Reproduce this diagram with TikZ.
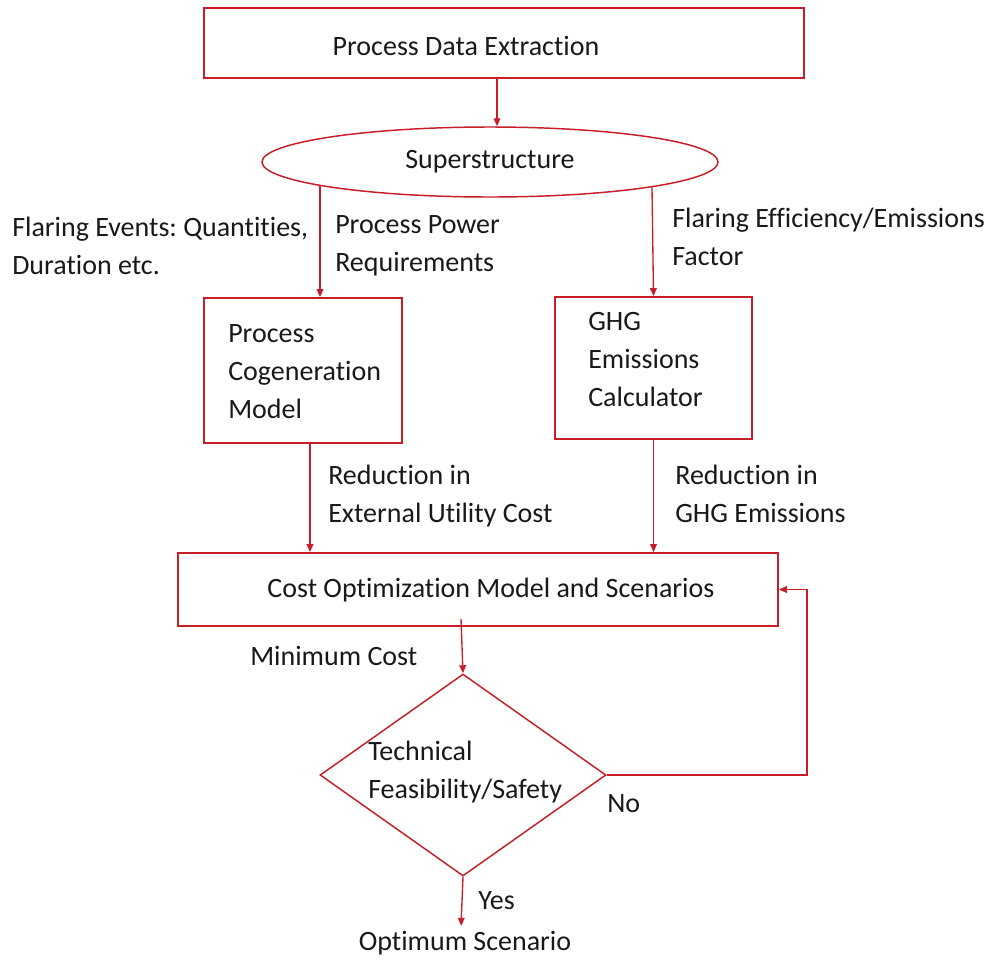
\documentclass[tikz,border=0pt]{standalone}
\usepackage{fontspec}
\setmainfont{Carlito}[Ligatures={NoCommon}]
\frenchspacing
\usetikzlibrary{arrows.meta,shapes.geometric,fit,calc}
\definecolor{lred}{RGB}{200,30,40}
\tikzset{
  box/.style={draw=lred, line width=1.3pt, inner sep=0pt},
  arr/.style={draw=lred, line width=1pt, -{Triangle[length=6pt,width=5pt]}},
  txt/.style={inner sep=0pt, font=\fontsize{21}{28.5}\selectfont\frenchspacing, text=black!90},
  lab/.style={txt, align=left, anchor=west},
}
\begin{document}
\begin{tikzpicture}[x=0.75pt, y=-0.75pt]
\path[use as bounding box, fill=white] (0,0) rectangle (992,961);
% boxes
\node[box, fit={(204,8) (804,78)}] (pde) {};
\node[txt] (pdet) at (466,46) {Process Data Extraction};
\node[ellipse, draw=lred, line width=1.1pt, minimum width=342pt, minimum height=52.5pt, inner sep=0pt] (sup) at (490,162) {};
\node[txt] (supt) at (490,162) {Superstructure};
\node[box, fit={(204,298) (402,443)}] (cog) {};
\node[lab] (cogt) at (228,372) {Process\\Cogeneration\\Model};
\node[box, fit={(555,297) (752,439)}] (ghg) {};
\node[lab] (ghgt) at (588,360) {GHG\\Emissions\\Calculator};
\node[box, fit={(178,553) (778,626)}] (cost) {};
\node[txt] (costt) at (491,590) {Cost Optimization Model and Scenarios};
\node[diamond, draw=lred, line width=1.1pt, minimum width=214.5pt, minimum height=151.5pt, inner sep=0pt] (dia) at (463,775) {};
\node[lab] (diat) at (368,772) {Technical\\Feasibility/Safety};
\node[txt] (opt) at (465,943) {Optimum Scenario};
% labels
\node[lab] (l1) at (12,246) {Flaring Events: Quantities,\\Duration etc.};
\node[lab] (l2) at (335,246) {Process Power\\Requirements};
\node[lab] (l3) at (672,237) {Flaring Efficiency/Emissions\\Factor};
\node[lab] (l4) at (328,496) {Reduction in\\External Utility Cost};
\node[lab] (l5) at (675,494) {Reduction in\\GHG Emissions};
\node[lab] (l6) at (250,656) {Minimum Cost};
\node[lab] (lno) at (607,804) {No};
\node[lab] (lyes) at (478,901) {Yes};
% helper coordinates
\coordinate (c497) at (497,0);
\coordinate (c320) at (320,0);
\coordinate (c310) at (310,0);
\coordinate (c807) at (807,0);
% connectors
\draw[arr] (pde.south -| c497) -- (sup.north -| c497);
\draw[arr] ($(sup.center)+(-170,23)$) -- (cog.north -| c320);
\draw[arr] ($(sup.center)+(162,25)$) -- (ghg.north);
\draw[arr] (cog.south -| c310) -- (cost.north -| c310);
\draw[arr] (ghg.south) -- (cost.north -| ghg.south);
\draw[arr] ($(cost.south -| dia.north)+(-2,-8)$) -- (dia.north);
\draw[arr] (dia.east) -- (dia.east -| c807) |- (cost.east);
\draw[arr] (dia.south) -- ($(opt.north)+(-4,-5)$);
\end{tikzpicture}
\end{document}
